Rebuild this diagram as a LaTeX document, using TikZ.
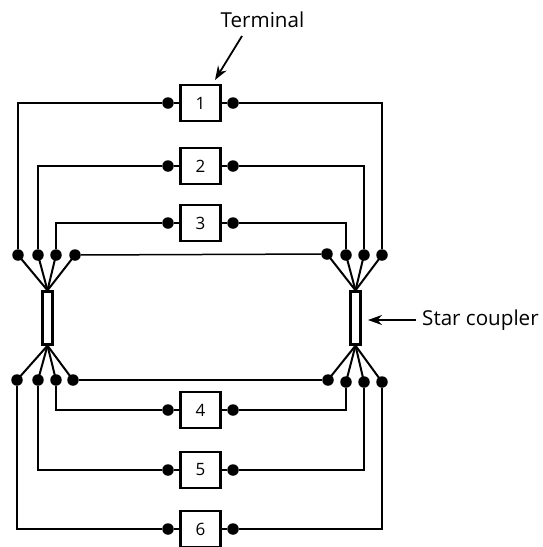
\documentclass[tikz,border=0pt]{standalone}
\usepackage{fontspec}
\setmainfont{Open Sans}
\usetikzlibrary{arrows.meta}
\tikzset{
  wire/.style={line width=1.5pt,black},
  spoke/.style={line width=2pt,black},
  dotn/.style={circle,fill=black,draw=none,minimum size=11.5pt,inner sep=0pt},
  termbox/.style={draw,line width=2.8pt,minimum width=40pt,minimum height=36pt,inner sep=0pt,font=\fontsize{17}{17}\selectfont},
  coupler/.style={draw,line width=2.3pt,minimum width=10pt,minimum height=53pt,inner sep=0pt},
  lab/.style={inner sep=0pt,font=\fontsize{20.6}{23}\selectfont},
  pointer/.style={line width=1.8pt,-{Stealth[length=14pt,width=10pt]}}
}
\begin{document}
\begin{tikzpicture}[x=1pt,y=-1pt]
\useasboundingbox (0,0) rectangle (542,547);
\fill[white] (0,0) rectangle (542,547);
% terminals
\foreach \n/\y in {1/103,2/166,3/223,4/410,5/470,6/529}{
  \node[termbox] (t\n) at (200.5,\y) {\n};
  \node[dotn] (l\n) at (168,\y) {};
  \node[dotn] (r\n) at (233,\y) {};
  \draw[wire] (l\n) -- (t\n);
  \draw[wire] (r\n) -- (t\n);
}
% couplers
\node[coupler] (cl) at (47.5,318) {};
\node[coupler] (cr) at (355.5,318) {};
% coupler dots
\foreach \n/\x/\y in {a/18/255,b/38/255,c/56/255,d/75/255,e/17/380,f/38/380,g/56/380,h/73/380}{
  \node[dotn] (\n) at (\x,\y) {};
}
\foreach \n/\x/\y in {p/327/254,q/346/255,s/364/255,u/382/255,v/328/380,w/346/382,z/364/382,k/382/382}{
  \node[dotn] (\n) at (\x,\y) {};
}
% spokes
\foreach \n in {a,b,c,d}{\draw[spoke] (\n.center) -- (cl.north);}
\foreach \n in {e,f,g,h}{\draw[spoke] (\n.center) -- (cl.south);}
\foreach \n in {p,q,s,u}{\draw[spoke] (\n.center) -- (cr.north);}
\foreach \n in {v,w,z,k}{\draw[spoke] (\n.center) -- (cr.south);}
% wires
\draw[wire] (l1) -| (a);
\draw[wire] (l2) -| (b);
\draw[wire] (l3) -| (c);
\draw[wire] (r1) -| (u);
\draw[wire] (r2) -| (s);
\draw[wire] (r3) -| (q);
\draw[wire] (d) -- (p);
\draw[wire] (h) -- (v);
\draw[wire] (l4) -| (g);
\draw[wire] (l5) -| (f);
\draw[wire] (l6) -| (e);
\draw[wire] (r4) -| (w);
\draw[wire] (r5) -| (z);
\draw[wire] (r6) -| (k);
% labels
\node[lab,anchor=center] (term) at (262.5,20) {Terminal};
\node[lab,anchor=west] (star) at (422,320) {Star coupler};
\coordinate (ta) at (242,36);
\coordinate (tb) at (215,80);
\coordinate (sa) at (416,320);
\coordinate (sb) at (368,320);
\draw[pointer] (ta) -- (tb);
\draw[pointer] (sa) -- (sb);
\end{tikzpicture}
\end{document}
